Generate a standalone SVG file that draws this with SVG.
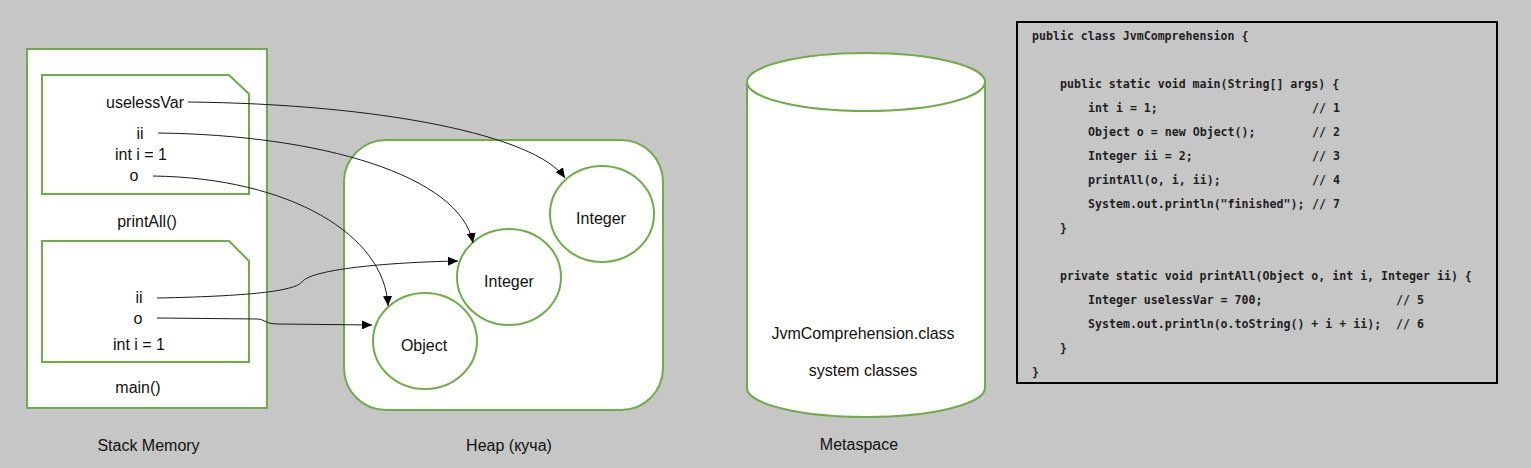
<svg xmlns="http://www.w3.org/2000/svg" width="1531" height="468" viewBox="0 0 1531 468">
  <style>
    .shape { fill: #ffffff; stroke: #70ad47; stroke-width: 2; }
    .lbl { font-family: "Liberation Sans", Arial, sans-serif; font-size: 16px; fill: #111111; text-anchor: middle; }
    .code { font-family: "DejaVu Sans Mono", "Liberation Mono", monospace; font-size: 11.6px; font-weight: bold; fill: #1e1e1e; }
    .conn { fill: none; stroke: #1a1a1a; stroke-width: 1; marker-end: url(#arrow); }
  </style>
  <defs>
    <marker id="arrow" markerUnits="userSpaceOnUse" markerWidth="11" markerHeight="9" refX="10" refY="4.5" orient="auto" viewBox="0 0 11 9">
      <path d="M0,0 L10,4.5 L0,9 Z" fill="#000000"/>
    </marker>
  </defs>
  <rect x="0" y="0" width="1531" height="468" fill="#c6c6c6"/>

  <g id="stack-memory">
    <rect class="shape" x="27" y="49" width="240" height="359"/>
    <text class="lbl" x="148.5" y="451">Stack Memory</text>
  </g>
  <g id="frame-printAll">
    <path class="shape" d="M42,75 L229,75 L249,94 L249,194 L42,194 Z"/>
    <text class="lbl" x="145" y="108">uselessVar</text>
    <text class="lbl" x="140" y="139">ii</text>
    <text class="lbl" x="141" y="160">int i = 1</text>
    <text class="lbl" x="134" y="181">o</text>
    <text class="lbl" x="147" y="227">printAll()</text>
  </g>
  <g id="frame-main">
    <path class="shape" d="M42,241 L229,241 L249,261 L249,362 L42,362 Z"/>
    <text class="lbl" x="139" y="303">ii</text>
    <text class="lbl" x="138" y="324">o</text>
    <text class="lbl" x="139" y="350">int i = 1</text>
    <text class="lbl" x="138" y="393">main()</text>
  </g>

  <g id="heap">
    <rect class="shape" x="344" y="140" width="319" height="270" rx="42" ry="42"/>
    <text class="lbl" x="509" y="451">Heap (куча)</text>
  </g>
  <g id="integer-uselessVar">
    <ellipse class="shape" cx="602" cy="214" rx="52" ry="48"/>
    <text class="lbl" x="601" y="224">Integer</text>
  </g>
  <g id="integer-ii">
    <ellipse class="shape" cx="509" cy="277" rx="52" ry="48"/>
    <text class="lbl" x="509" y="287">Integer</text>
  </g>
  <g id="object-o">
    <ellipse class="shape" cx="425" cy="341" rx="52" ry="48"/>
    <text class="lbl" x="424" y="351">Object</text>
  </g>

  <g id="metaspace">
    <path class="shape" d="M747,82 L747,388 A119,29 0 0 0 985,388 L985,82"/>
    <ellipse class="shape" cx="866" cy="82" rx="119" ry="29"/>
    <text class="lbl" x="863" y="339">JvmComprehension.class</text>
    <text class="lbl" x="863" y="376">system classes</text>
    <text class="lbl" x="859" y="450">Metaspace</text>
  </g>

  <g id="code">
    <rect x="1017" y="22" width="480" height="361" fill="none" stroke="#000000" stroke-width="2"/>
    <text class="code" x="1032" y="40">public class JvmComprehension {</text>
    <text class="code" x="1060" y="88">public static void main(String[] args) {</text>
    <text class="code" x="1088" y="112">int i = 1;</text>
    <text class="code" x="1312" y="112">// 1</text>
    <text class="code" x="1088" y="136">Object o = new Object();</text>
    <text class="code" x="1312" y="136">// 2</text>
    <text class="code" x="1088" y="160">Integer ii = 2;</text>
    <text class="code" x="1312" y="160">// 3</text>
    <text class="code" x="1088" y="184">printAll(o, i, ii);</text>
    <text class="code" x="1312" y="184">// 4</text>
    <text class="code" x="1088" y="208">System.out.println("finished");</text>
    <text class="code" x="1312" y="208">// 7</text>
    <text class="code" x="1060" y="232">}</text>
    <text class="code" x="1060" y="280">private static void printAll(Object o, int i, Integer ii) {</text>
    <text class="code" x="1088" y="304">Integer uselessVar = 700;</text>
    <text class="code" x="1396" y="304">// 5</text>
    <text class="code" x="1088" y="328">System.out.println(o.toString() + i + ii);</text>
    <text class="code" x="1396" y="328">// 6</text>
    <text class="code" x="1060" y="352">}</text>
    <text class="code" x="1032" y="376">}</text>
  </g>

  <g id="connectors">
    <path class="conn" d="M188,102 C380,104 535,135 565,178"/>
    <path class="conn" d="M158,133 C320,135 460,175 473,243"/>
    <path class="conn" d="M153,176 C290,178 385,235 388,306"/>
    <path class="conn" d="M157,298 C260,296 295,290 302,282 C312,268 400,262 458,261"/>
    <path class="conn" d="M157,318 L258,319 C266,320 266,324 278,324 L372,325"/>
  </g>
</svg>
